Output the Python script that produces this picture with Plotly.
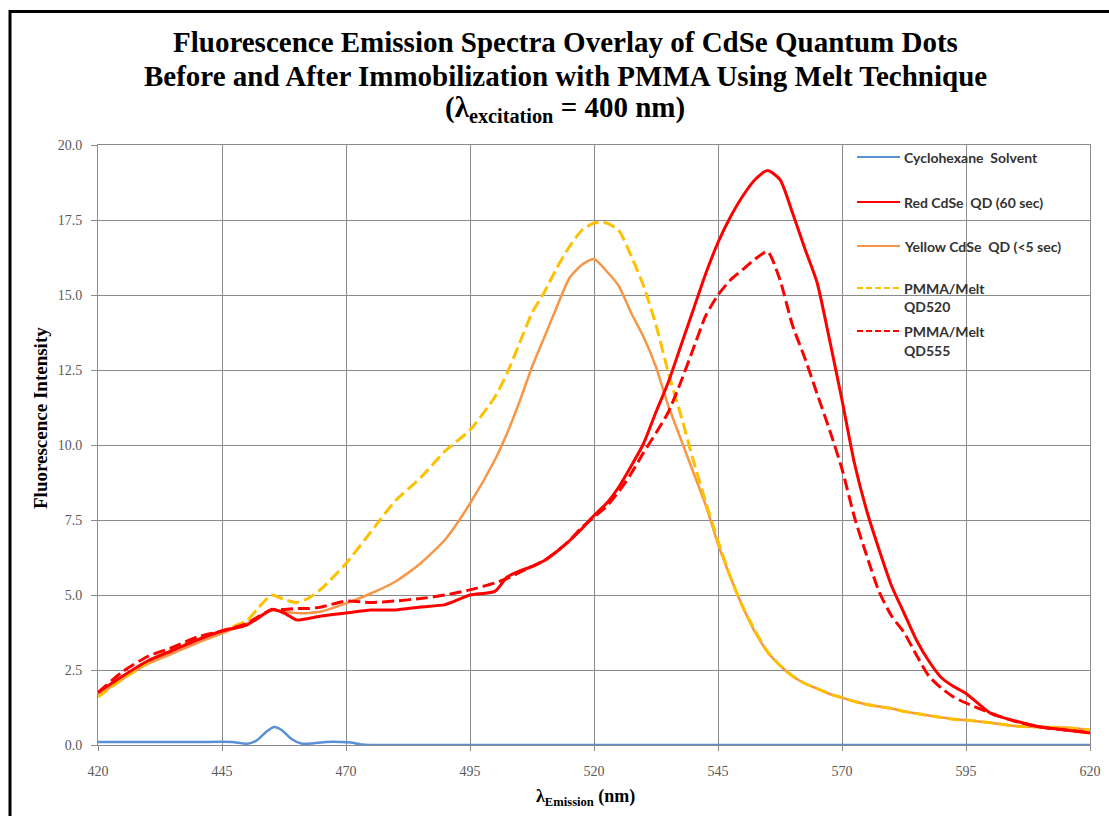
import plotly.graph_objects as go

# ---------------- data ----------------
wavelength = [420, 425, 430, 435, 440, 445, 450, 452.5, 455, 457.5, 460, 462.5, 465, 470, 475, 480,
              485, 490, 495, 500, 502.5, 505, 507.5, 510, 512.5, 515, 517.5, 520, 522.5, 525, 527.5,
              530, 532.5, 535, 537.5, 540, 542.5, 545, 547.5, 550, 552.5, 555, 557.5, 560, 562.5,
              565, 567.5, 570, 572.5, 575, 577.5, 580, 582.5, 585, 587.5, 590, 592.5, 595, 600,
              605, 610, 615, 620]

red_qd = [1.75, 2.3, 2.8, 3.15, 3.5, 3.8, 4.0, 4.25, 4.52, 4.4, 4.17, 4.22, 4.3, 4.4, 4.5, 4.5,
          4.6, 4.68, 5.0, 5.12, 5.6, 5.8, 5.95, 6.15, 6.45, 6.8, 7.2, 7.65, 8.05, 8.6, 9.3,
          10.05, 11.1, 12.1, 13.3, 14.5, 15.7, 16.75, 17.6, 18.3, 18.85, 19.15, 18.85, 17.75, 16.55,
          15.4, 13.5, 11.5, 9.4, 7.8, 6.5, 5.3, 4.4, 3.5, 2.8, 2.25, 1.95, 1.72, 1.05,
          0.8, 0.6, 0.5, 0.4]

yellow_qd = [1.65, 2.2, 2.7, 3.05, 3.4, 3.72, 4.05, 4.3, 4.5, 4.45, 4.4, 4.4, 4.45, 4.72, 5.05, 5.45,
             6.05, 6.85, 8.05, 9.5, 10.4, 11.45, 12.6, 13.6, 14.6, 15.55, 16.0, 16.2, 15.8, 15.3, 14.4,
             13.6, 12.6, 11.3, 10.2, 9.1, 8.0, 6.7, 5.6, 4.6, 3.75, 3.1, 2.65, 2.3, 2.05,
             1.88, 1.7, 1.58, 1.45, 1.35, 1.28, 1.22, 1.12, 1.05, 0.98, 0.92, 0.86, 0.83, 0.74,
             0.63, 0.6, 0.58, 0.5]

pmma_qd520 = [1.6, 2.2, 2.75, 3.2, 3.55, 3.8, 4.15, 4.6, 5.0, 4.85, 4.75, 4.9, 5.2, 6.05, 7.1, 8.15,
              8.9, 9.8, 10.5, 11.6, 12.4, 13.4, 14.4, 15.1, 15.9, 16.6, 17.15, 17.4, 17.4, 17.15, 16.3,
              15.3, 14.0, 12.4, 11.0, 9.5, 8.1, 6.8, 5.6, 4.6, 3.8, 3.1, 2.65, 2.3, 2.05,
              1.88, 1.7, 1.58, 1.45, 1.35, 1.28, 1.22, 1.12, 1.05, 0.98, 0.92, 0.86, 0.83, 0.74,
              0.63, 0.6, 0.58, 0.5]

pmma_qd555 = [1.75, 2.45, 2.95, 3.25, 3.6, 3.8, 4.05, 4.3, 4.5, 4.52, 4.55, 4.55, 4.6, 4.8, 4.75, 4.8,
              4.88, 5.0, 5.17, 5.4, 5.55, 5.75, 5.95, 6.15, 6.45, 6.8, 7.25, 7.6, 7.95, 8.45, 9.05,
              9.75, 10.4, 11.1, 12.1, 13.2, 14.3, 15.0, 15.5, 15.85, 16.2, 16.45, 15.5, 14.0, 12.9,
              11.7, 10.5, 9.2, 7.6, 6.3, 5.1, 4.3, 3.75, 3.0, 2.3, 1.9, 1.6, 1.4, 1.06,
              0.78, 0.6, 0.5, 0.42]

solvent_wavelength = [420, 430, 440, 447, 450, 452, 454, 455.5, 457, 459, 461, 463, 466, 469, 471, 473,
                      475, 500, 550, 600, 620]
solvent = [0.1, 0.1, 0.1, 0.1, 0.04, 0.15, 0.45, 0.6, 0.5, 0.2, 0.05, 0.05, 0.1, 0.1, 0.08, 0.02,
           0.0, 0.0, 0.0, 0.0, 0.0]

series_names = ["Cyclohexane  Solvent", "Red CdSe  QD (60 sec)", "Yellow CdSe  QD (&lt;5 sec)",
                "PMMA/Melt QD520", "PMMA/Melt QD555"]
title_lines = ["Fluorescence Emission Spectra Overlay of CdSe Quantum Dots",
               "Before and After Immobilization with PMMA Using Melt Technique",
               "(λ<sub>excitation</sub> = 400 nm)"]
x_title = "λ<sub>Emission</sub> (nm)"
y_title = "Fluorescence Intensity"
x_ticks = [420, 445, 470, 495, 520, 545, 570, 595, 620]
y_ticks = [0.0, 2.5, 5.0, 7.5, 10.0, 12.5, 15.0, 17.5, 20.0]

# ---------------- styles ----------------
C_BLUE = "#5B8FD6"
C_RED = "#FF0000"
C_ORANGE = "#F79646"
C_GOLD = "#FFC000"
GRID = "#8A8A8A"
DASH = "12px,5px"
SERIF = "Liberation Serif"
TICK_FONT = dict(family=SERIF, size=14, color="#595959")

fig = go.Figure()
fig.add_trace(go.Scatter(x=solvent_wavelength, y=solvent, mode="lines", name=series_names[0],
                         line=dict(color=C_BLUE, width=2.5, shape="spline", smoothing=0.6)))
fig.add_trace(go.Scatter(x=wavelength, y=yellow_qd, mode="lines", name=series_names[2],
                         line=dict(color=C_ORANGE, width=2.5, shape="spline", smoothing=0.6)))
fig.add_trace(go.Scatter(x=wavelength, y=pmma_qd520, mode="lines", name=series_names[3],
                         line=dict(color=C_GOLD, width=3, dash=DASH, shape="spline", smoothing=0.6)))
fig.add_trace(go.Scatter(x=wavelength, y=red_qd, mode="lines", name=series_names[1],
                         line=dict(color=C_RED, width=3, shape="spline", smoothing=0.6)))
fig.add_trace(go.Scatter(x=wavelength, y=pmma_qd555, mode="lines", name=series_names[4],
                         line=dict(color=C_RED, width=3, dash=DASH, shape="spline", smoothing=0.6)))

# ---------------- layout helpers ----------------
W, H = 1109, 816
PL, PR, PT, PB = 98, 1090, 145, 745
def px_x(p):
    return (p - PL) / (PR - PL)
def px_y(p):
    return (PB - p) / (PB - PT)

shapes = []
annotations = []

# title, one annotation per line
for yy, txt in zip([42, 76, 109], title_lines):
    annotations.append(dict(xref="paper", yref="paper", x=px_x(565), y=px_y(yy),
                            xanchor="center", yanchor="middle", showarrow=False, text=txt,
                            font=dict(family=SERIF, size=29, color="#000000", weight="bold")))

# y axis title (sits a little above the axis centre in the reference)
annotations.append(dict(xref="paper", yref="paper", x=px_x(40), y=px_y(418),
                        xanchor="center", yanchor="middle", showarrow=False, text=y_title,
                        textangle=-90,
                        font=dict(family=SERIF, size=19, color="#000000", weight="bold")))

# x axis title (left of the axis centre in the reference)
annotations.append(dict(xref="paper", yref="paper", x=px_x(585), y=px_y(797),
                        xanchor="center", yanchor="middle", showarrow=False, text=x_title,
                        font=dict(family=SERIF, size=18, color="#000000", weight="bold")))

# manual legend (transparent, inside plot area)
legend_items = [
    (C_BLUE, "solid", [(157, series_names[0])]),
    (C_RED, "solid", [(202, series_names[1])]),
    (C_ORANGE, "solid", [(246, series_names[2])]),
    (C_GOLD, "6px,3px", [(288, "PMMA/Melt"), (306, "QD520")]),
    (C_RED, "6px,3px", [(331, "PMMA/Melt"), (350, "QD555")]),
]
for color, dash, lines in legend_items:
    y0 = lines[0][0]
    shapes.append(dict(type="line", xref="paper", yref="paper",
                       x0=px_x(857), x1=px_x(900), y0=px_y(y0), y1=px_y(y0),
                       line=dict(color=color, width=2, dash=dash)))
    for yy, txt in lines:
        annotations.append(dict(xref="paper", yref="paper", x=px_x(902), y=px_y(yy),
                                xanchor="left", yanchor="middle", showarrow=False,
                                text=txt,
                                font=dict(family="Lato", size=14, color="#333333", weight="bold")))

# outer black frame
shapes.append(dict(type="rect", xref="paper", yref="paper",
                   x0=px_x(10), x1=px_x(1125), y0=px_y(11.5), y1=px_y(835),
                   line=dict(color="black", width=3), fillcolor="rgba(0,0,0,0)", layer="above"))

fig.update_layout(
    width=W, height=H,
    margin=dict(l=PL, r=W - PR, t=PT, b=H - PB, autoexpand=False),
    paper_bgcolor="white", plot_bgcolor="white",
    showlegend=False,
    xaxis=dict(
        range=[420, 620], tickvals=x_ticks, ticktext=[str(v) for v in x_ticks],
        showgrid=True, gridcolor=GRID, gridwidth=1,
        showline=True, linecolor=GRID, linewidth=1, mirror=True,
        ticks="outside", ticklen=5, tickcolor=GRID, ticklabelstandoff=8,
        tickfont=TICK_FONT, zeroline=False,
    ),
    yaxis=dict(
        range=[0, 20], tickvals=y_ticks, ticktext=["%.1f" % v for v in y_ticks],
        showgrid=True, gridcolor=GRID, gridwidth=1,
        showline=True, linecolor=GRID, linewidth=1, mirror=True,
        ticks="outside", ticklen=6, tickcolor=GRID, ticklabelstandoff=6,
        tickfont=TICK_FONT, zeroline=False,
    ),
    shapes=shapes,
    annotations=annotations,
)

fig.write_html("out.html")
